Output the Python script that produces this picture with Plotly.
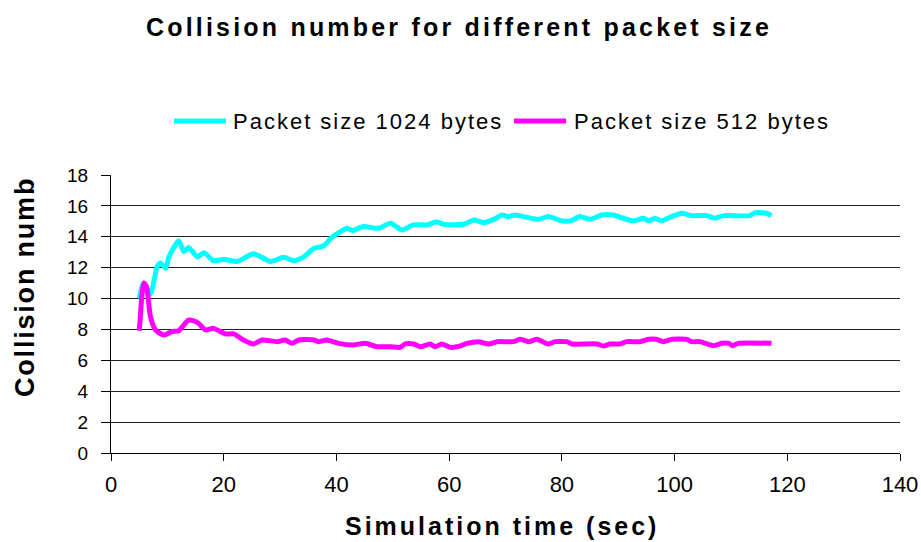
import plotly.graph_objects as go

# Simulation time (sec) and collision counts for each packet size
time_1024 = [5, 5.8, 7, 8.2, 8.8, 9.7, 10.3, 12.0, 12.9, 13.8,
             15.3, 16.5, 18.2, 20, 22.4, 25.3, 28.3, 30.6, 32.4, 34.2,
             36, 37.7, 39.2, 41.9, 42.8, 44.8, 47.5, 49.6, 51.6, 53.7,
             56.1, 57.8, 59, 62.6, 64.4, 66.1, 67.9, 69.4, 70.5, 71.7,
             73.8, 75.9, 77.6, 80, 81.5, 83.2, 85, 87.1, 89.1, 90.9,
             92.7, 94.5, 95.4, 96.5, 97.7, 99.5, 101.3, 103, 105.7, 107.2,
             108.7, 113.4, 114.3, 116.3, 117.2]
coll_1024 = [10.0, 11.0, 10.3, 12.07, 12.3, 11.96, 12.7, 13.75, 13.04, 13.3,
             12.7, 12.97, 12.45, 12.54, 12.4, 12.9, 12.4, 12.67, 12.45, 12.7,
             13.25, 13.4, 13.97, 14.55, 14.4, 14.66, 14.55, 14.88, 14.44, 14.77,
             14.77, 14.98, 14.81, 14.81, 15.09, 14.92, 15.13, 15.41, 15.31, 15.41,
             15.26, 15.13, 15.31, 15.03, 15.03, 15.31, 15.13, 15.41, 15.41, 15.2,
             15.03, 15.2, 15.03, 15.2, 15.03, 15.31, 15.52, 15.37, 15.37, 15.2,
             15.37, 15.37, 15.56, 15.52, 15.37]

time_512 = [5, 5.1, 5.8, 6.3, 7.0, 7.9, 9.4, 10.8, 12.0, 13.8,
            15.3, 16.8, 18.2, 20.3, 21.8, 23.5, 25.3, 26.8, 29.5, 30.9,
            32.1, 33.3, 36, 36.8, 38.3, 40.4, 43, 45.1, 47.2, 49.6,
            51.3, 52.2, 53.7, 54.9, 56.6, 57.5, 58.7, 60.2, 61.4, 63.2,
            65.2, 67, 68.5, 71.4, 72.6, 74.1, 75.6, 77.6, 78.8, 80.9,
            81.8, 86.2, 87.4, 88.6, 90.3, 91.5, 93.9, 95.4, 96.8, 98,
            99.5, 102.2, 103, 104.5, 106.9, 108.4, 109.6, 110.3, 111.3, 117.2]
coll_512 = [7.92, 8.3, 11.0, 10.77, 8.83, 7.97, 7.64, 7.86, 7.92, 8.61,
            8.46, 7.97, 8.07, 7.71, 7.71, 7.32, 7.06, 7.32, 7.21, 7.32,
            7.1, 7.32, 7.32, 7.21, 7.32, 7.1, 7.0, 7.1, 6.88, 6.88,
            6.84, 7.06, 7.06, 6.88, 7.06, 6.88, 7.06, 6.84, 6.88, 7.1,
            7.21, 7.06, 7.21, 7.21, 7.36, 7.21, 7.36, 7.06, 7.21, 7.21,
            7.06, 7.06, 6.93, 7.06, 7.06, 7.21, 7.21, 7.36, 7.36, 7.21,
            7.36, 7.36, 7.21, 7.21, 6.95, 7.1, 7.1, 6.95, 7.1, 7.1]

series_names = ["Packet size 1024 bytes", "Packet size 512 bytes"]
series_colors = ["#00FFFF", "#FF00FF"]

x_ticks = [0, 20, 40, 60, 80, 100, 120, 140]
y_ticks = [0, 2, 4, 6, 8, 10, 12, 14, 16, 18]

FONT = "Liberation Sans, Arial, sans-serif"

W, H = 921, 542
ML, MR, MT, MB = 111, 21, 175, 89
PW, PH = W - ML - MR, H - MT - MB


def px(x):
    return (x - ML) / PW


def py(y):
    return (H - MB - y) / PH


def spaced(text, sp):
    return f"<span style='letter-spacing:{sp}px'>{text}</span>"


fig = go.Figure()
for t, v, name, col in [(time_1024, coll_1024, series_names[0], series_colors[0]),
                        (time_512, coll_512, series_names[1], series_colors[1])]:
    fig.add_trace(go.Scatter(x=t, y=v, mode="lines", name=name,
                             line=dict(color=col, width=5, shape="spline", smoothing=0.6),
                             showlegend=False))

# Legend drawn as line swatches with labels above the plot
legend_y = py(121)
legend_items = [(174, 226, 231), (514, 566, 572)]
for (x0, x1, xt), name, col in zip(legend_items, series_names, series_colors):
    fig.add_shape(type="line", xref="paper", yref="paper",
                  x0=px(x0), x1=px(x1), y0=legend_y, y1=legend_y,
                  line=dict(color=col, width=5))
    fig.add_annotation(xref="paper", yref="paper", x=px(xt), y=legend_y,
                       xanchor="left", yanchor="middle", showarrow=False,
                       text=spaced(name, 2.0),
                       font=dict(family=FONT, size=22, color="black"))

# Rotated y-axis title
fig.add_annotation(xref="paper", yref="paper", x=px(25), y=py(287),
                   xanchor="center", yanchor="middle", showarrow=False,
                   textangle=-90, text=spaced("Collision numb", 1.8),
                   font=dict(family=FONT, size=27, color="black", weight="bold"))

# x-axis title
fig.add_annotation(xref="paper", yref="paper", x=px(502), y=py(526),
                   xanchor="center", yanchor="middle", showarrow=False,
                   text=spaced("Simulation time (sec)", 3.0),
                   font=dict(family=FONT, size=25, color="black", weight="bold"))

fig.update_layout(
    width=W, height=H,
    margin=dict(l=ML, r=MR, t=MT, b=MB, pad=0, autoexpand=False),
    paper_bgcolor="white", plot_bgcolor="white",
    title=dict(text=spaced("Collision number for different packet size", 3.2),
               x=459 / W, xanchor="center", xref="container",
               y=1 - 27 / H, yanchor="middle", yref="container",
               font=dict(family=FONT, size=25, color="black", weight="bold")),
    xaxis=dict(range=[0, 140], tickvals=x_ticks, ticktext=[str(v) for v in x_ticks],
               showgrid=False, zeroline=False, showline=True, linecolor="black",
               linewidth=1, ticks="outside", ticklen=7, tickcolor="black",
               ticklabelstandoff=5, automargin=False,
               tickfont=dict(family=FONT, size=22, color="black")),
    yaxis=dict(range=[0, 18], tickvals=y_ticks, ticktext=[str(v) for v in y_ticks],
               showgrid=True, gridcolor="#202020", gridwidth=1, zeroline=False,
               showline=True, linecolor="black", linewidth=1,
               ticks="outside", ticklen=9, tickcolor="black",
               ticklabelstandoff=9, automargin=False,
               tickfont=dict(family=FONT, size=19, color="black")),
)

fig.write_html("out.html")
